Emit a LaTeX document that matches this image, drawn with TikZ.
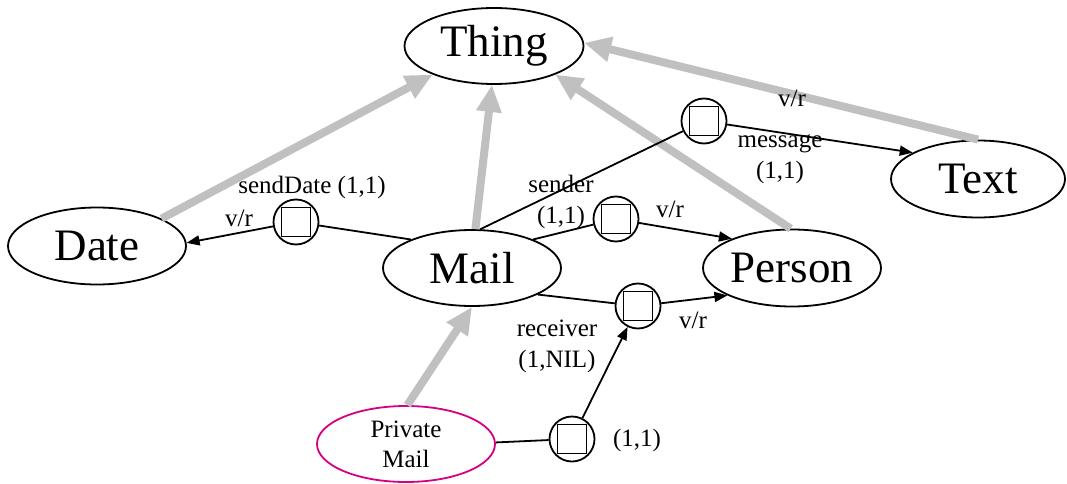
\documentclass[tikz,border=0pt]{standalone}
\usepackage{fontspec}
\setmainfont{Liberation Serif}
\usetikzlibrary{shapes.geometric,arrows.meta}
\definecolor{isagray}{RGB}{192,192,192}
\definecolor{pmag}{RGB}{215,0,130}
\begin{document}
\begin{tikzpicture}[x=1pt,y=-1pt,
  cls/.style={ellipse, draw, line width=1.8pt, minimum width=178pt, minimum height=77pt, inner sep=0pt, font=\fontsize{45}{48}\selectfont},
  subcls/.style={cls, draw=pmag, font=\fontsize{25}{30}\selectfont, align=center},
  prop/.style={circle, draw, line width=1.8pt, minimum size=45pt, inner sep=0pt,
    path picture={\draw[line width=1.8pt] ([shift={(-14.5pt,-14.5pt)}]path picture bounding box.center) rectangle ([shift={(14.5pt,14.5pt)}]path picture bounding box.center);}},
  lbl/.style={font=\fontsize{25}{31}\selectfont, inner sep=0pt, align=center},
  rel/.style={line width=1.8pt},
  relarr/.style={line width=1.8pt, -{Triangle[length=13pt,width=10pt]}},
  isa/.style={draw=isagray, line width=8pt, -{Triangle[length=27pt,width=24pt]}}
]
\useasboundingbox (0,0) rectangle (1067,484);
% classes
\node[cls, minimum width=179pt, minimum height=76pt] (thing) at (494,46) {Thing};
\node[cls] (date) at (97,246) {Date};
\node[cls, minimum height=76pt] (mail) at (472,268) {Mail};
\node[cls] (person) at (792,268) {Person};
\node[cls, minimum width=174pt] (text) at (978,179) {Text};
\node[subcls, minimum height=76pt] (pm) at (406,444) {Private\\Mail};
% property nodes
\node[prop] (sd) at (296,222) {};
\node[prop] (msg) at (704,121) {};
\node[prop] (snd) at (616,219) {};
\node[prop] (rcv) at (638,306) {};
\node[prop] (pc) at (572,439) {};
% is-a arrows
\draw[isa] (date.23) -- (thing.205);
\draw[isa] (mail.85) -- (thing.267);
\draw[isa] (person.92) -- (thing.335);
\draw[isa] (text.90) -- (thing.2);
\draw[isa] (pm.88) -- (mail.270);
% relations
\draw[rel] (mail.155) -- (sd);
\draw[relarr] (sd) -- (date.2);
\draw[rel] (mail.78) -- (msg);
\draw[relarr] (msg) -- (text.158);
\draw[rel] (mail.25) -- (snd);
\draw[relarr] (snd) -- (person.154);
\draw[rel] (mail.-22) -- (rcv);
\draw[relarr] (rcv) -- (person.203);
\draw[rel] (pm.1) -- (pc);
\draw[relarr] (pc) -- (rcv);
% labels
\node[lbl] (l1) at (312,187) {sendDate (1,1)};
\node[lbl] (l2) at (239,218) {v/r};
\node[lbl] (l3) at (561,202) {sender\\(1,1)};
\node[lbl] (l4) at (670,209) {v/r};
\node[lbl] (l5) at (780,159) {message\\(1,1)};
\node[lbl] (l6) at (792,98) {v/r};
\node[lbl] (l7) at (557,346) {receiver\\(1,NIL)};
\node[lbl] (l8) at (693,320) {v/r};
\node[lbl] (l9) at (637,440) {(1,1)};
\end{tikzpicture}
\end{document}
